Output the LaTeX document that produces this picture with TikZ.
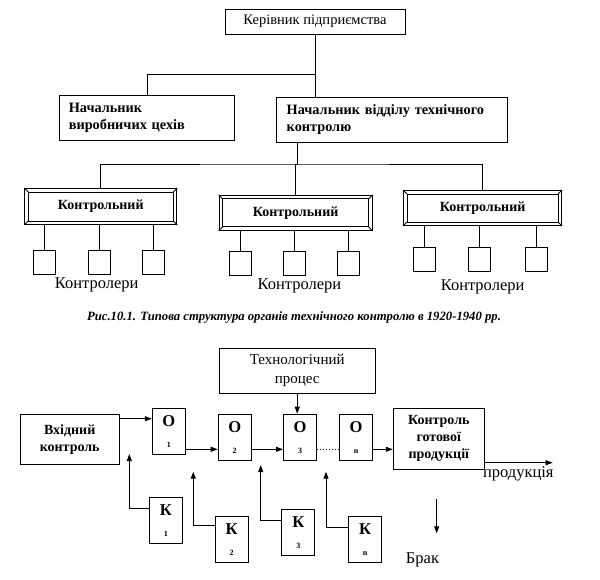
\documentclass[tikz,border=0pt]{standalone}
\usepackage{fontspec}
\setmainfont{Liberation Serif}
\usetikzlibrary{
	arrows.meta,
}

\begin{document}
\begin{tikzpicture}[x=1pt, y=-1pt, line width=0.9pt,
	box/.style={draw, line width=1pt, inner sep=0pt, align=center},
	plain/.style={font=\fontsize{14.5}{17}\selectfont},
	heavy/.style={font=\bfseries\fontsize{14.3}{17}\selectfont},
	label/.style={font=\fontsize{16.5}{19}\selectfont},
	cell/.style={box, minimum width=33pt, minimum height=46pt, font=\bfseries\fontsize{16.5}{18}\selectfont},
	sq/.style={draw, minimum width=22pt, minimum height=24pt, inner sep=0pt},
	arr/.style={-{Triangle[length=7pt,width=5pt]}},
]
\useasboundingbox (0,0) rectangle (600,579);
% head of the enterprise
\node[box, plain, minimum width=180pt, minimum height=25pt] (boss) at (315,21.5) {Керівник підприємства};
% two chiefs
\node[box, heavy, align=left, text width=156pt, inner xsep=9.6pt, minimum height=45pt] (prod) at (146.8,118.3) {Начальник\\виробничих цехів};
\node[box, heavy, align=left, text width=210pt, inner xsep=10.7pt, minimum height=45pt] (otk) at (391.7,119.5) {Начальник відділу технічного\\контролю};
\draw (boss.south) -- (boss.south |- otk.north);
\draw (boss.south |- 0,74) -| (prod.north -| 147.3,0);
% control bureaus
\node[box, heavy, font=\bfseries\fontsize{14}{16}\selectfont, minimum width=152pt, minimum height=36pt] (ctrlA) at (100.8,206.5) {Контрольний};
\node[box, heavy, font=\bfseries\fontsize{14}{16}\selectfont, minimum width=153pt, minimum height=35pt] (ctrlB) at (295.6,212.8) {Контрольний};
\node[box, heavy, font=\bfseries\fontsize{14}{16}\selectfont, minimum width=158pt, minimum height=35pt] (ctrlC) at (482.6,208) {Контрольний};
\foreach \c in {ctrlA,ctrlB,ctrlC}{
	\draw ([xshift=4pt,yshift=-4pt]\c.north west) rectangle ([xshift=-4pt,yshift=4pt]\c.south east);
	\draw (\c.north west) -- ([xshift=4pt,yshift=-4pt]\c.north west);
	\draw (\c.north east) -- ([xshift=-4pt,yshift=-4pt]\c.north east);
	\draw (\c.south west) -- ([xshift=4pt,yshift=4pt]\c.south west);
	\draw (\c.south east) -- ([xshift=-4pt,yshift=4pt]\c.south east);
}
\coordinate (bus) at (297.3,164);
\draw (otk.south -| bus) -- (bus);
\draw (ctrlA.north) |- (bus) -| (ctrlC.north);
\draw (bus) -- (bus -| ctrlB.north) -- (ctrlB.north);
% controllers
\foreach \n/\x in {1/44.5, 2/99.2, 3/153.3}{
	\node[sq] (sqA\n) at (\x,262.8) {};
	\draw (sqA\n.north) -- (sqA\n.north |- ctrlA.south);
}
\foreach \n/\x in {1/240, 2/294.5, 3/348.3}{
	\node[sq] (sqB\n) at (\x,263.3) {};
	\draw (sqB\n.north) -- (sqB\n.north |- ctrlB.south);
}
\foreach \n/\x in {1/424.5, 2/479.8, 3/536.3}{
	\node[sq] (sqC\n) at (\x,259) {};
	\draw (sqC\n.north) -- (sqC\n.north |- ctrlC.south);
}
\node[label] (labA) at (96.7,285) {Контролери};
\node[label] (labB) at (299.5,286) {Контролери};
\node[label] (labC) at (482.6,286.7) {Контролери};
% caption
\node[font=\bfseries\itshape\fontsize{12.7}{15}\selectfont] (caption) at (294,317) {Рис.10.1. Типова структура органів технічного контролю в 1920-1940 рр.};

%% process scheme
\node[box, font=\fontsize{15}{19}\selectfont, minimum width=156pt, minimum height=45pt] (tech) at (297.2,370.8) {Технологічний\\процес};
\node[box, heavy, font=\bfseries\fontsize{14}{17}\selectfont, minimum width=99pt, minimum height=50pt] (vhid) at (69.7,439.2) {Вхідний\\контроль};
\node[cell] (o1) at (168.8,431.2) {О\\[3pt]{\fontsize{8}{8}\selectfont 1}};
\node[cell] (o2) at (234.7,437.2) {О\\[3pt]{\fontsize{8}{8}\selectfont 2}};
\node[cell] (o3) at (300,437.2) {О\\[3pt]{\fontsize{8}{8}\selectfont 3}};
\node[cell] (on) at (356,437.2) {О\\[3pt]{\fontsize{8}{8}\selectfont n}};
\node[box, font=\bfseries\fontsize{14}{17}\selectfont, minimum width=91pt, minimum height=61pt] (final) at (438.8,438.8) {Контроль\\готової\\продукції};
% checks
\node[cell] (k1) at (165.8,520.3) {К\\[3pt]{\fontsize{8}{8}\selectfont 1}};
\node[cell] (k2) at (231.7,539.2) {К\\[3pt]{\fontsize{8}{8}\selectfont 2}};
\node[cell] (k3) at (298.3,532.5) {К\\[3pt]{\fontsize{8}{8}\selectfont 3}};
\node[cell] (kn) at (365,539.5) {К\\[3pt]{\fontsize{8}{8}\selectfont n}};

\draw[arr] (tech.south) -- (tech.south |- o3.north);
\draw[arr] ([yshift=-5pt]vhid.north east) -- ([yshift=-5pt]vhid.north east -| o1.west);
\coordinate (flow) at (0,449.3);
\draw[arr] (o1.east |- flow) -- (o2.west |- flow);
\draw[arr] (o2.east |- flow) -- (o3.west |- flow);
\draw[dotted, line width=1pt] (o3.east |- flow) -- (on.west |- flow);
\draw[arr] (on.east |- flow) -- (final.west |- flow);
\coordinate (out) at (552.7,462.7);
\draw[arr] (final.east |- out) -- (out);
\node[label] (goods) at (518.3,474.3) {продукція};
% feedback from checks
\coordinate (t1) at (129.3,454);
\coordinate (t2) at (193.3,471.7);
\coordinate (t3) at (260.7,465);
\coordinate (tn) at (326,471.7);
\draw[arr] ([yshift=-12pt]k1.north west) -| (t1);
\draw[arr] ([yshift=-10pt]k2.north west) -| (t2);
\draw[arr] ([yshift=-11.7pt]k3.north west) -| (t3);
\draw[arr] ([yshift=-11.7pt]kn.north west) -| (tn);
% reject
\coordinate (rejtop) at (436.7,499.3);
\coordinate (rejend) at (436.7,533.3);
\draw[arr] (rejtop) -- (rejend);
\node[label] (brak) at (422.5,560) {Брак};
\end{tikzpicture}
\end{document}
